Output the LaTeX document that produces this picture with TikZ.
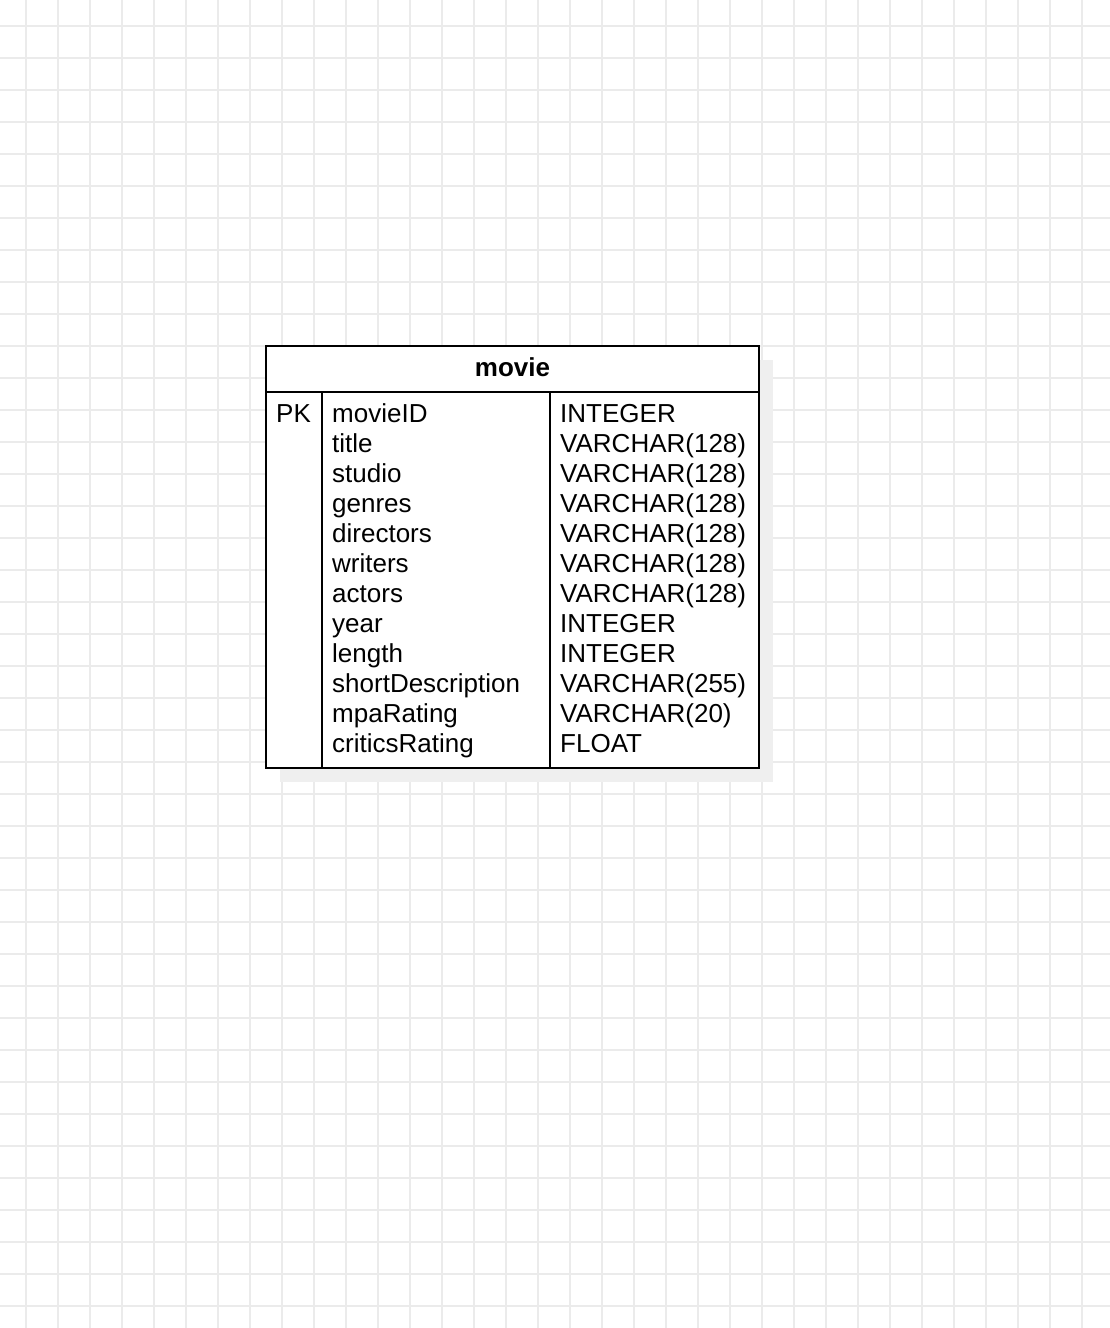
\documentclass[tikz,border=0pt]{standalone}
\usepackage{fontspec}
\setmainfont{Liberation Sans}
\definecolor{gridgray}{HTML}{EBEBEB}
\definecolor{shadowgray}{HTML}{EFEFEF}

\begin{document}
\begin{tikzpicture}[x=1pt,y=-1pt,
    gridline/.style={draw=gridgray, line width=1.3pt},
    tblline/.style={draw=black, line width=2pt},
    cell/.style={anchor=base west, inner sep=0pt, font=\fontsize{26}{30}\selectfont}]
    \useasboundingbox (0,0) rectangle (1110,1328);
    % background grid
    \foreach \x in {26,58,...,1110}
        \draw[gridline] (\x,0) -- (\x,1328);
    \foreach \y in {26,58,...,1328}
        \draw[gridline] (0,\y) -- (1110,\y);
    % table with shadow
    \fill[shadowgray] (280,360) rectangle (773,782);
    \filldraw[tblline, fill=white] (266,346) rectangle (759,768);
    \draw[tblline] (266,392) -- (759,392);
    \draw[tblline] (322,392) -- (322,768);
    \draw[tblline] (550,392) -- (550,768);
    \node[cell, anchor=base, font=\fontsize{26}{30}\selectfont\bfseries] (title) at (512.5,376.5) {movie};
    \node[cell] (pk) at (276,422) {PK};
    \foreach \fld/\typ [count=\i] in {movieID/INTEGER, title/VARCHAR(128), studio/VARCHAR(128),
        genres/VARCHAR(128), directors/VARCHAR(128), writers/VARCHAR(128), actors/VARCHAR(128),
        year/INTEGER, length/INTEGER, shortDescription/VARCHAR(255), mpaRating/VARCHAR(20),
        criticsRating/FLOAT}
    {
        \node[cell] (fld\i) at (332,392+30*\i) {\fld};
        \node[cell] (typ\i) at (560,392+30*\i) {\typ};
    }
\end{tikzpicture}
\end{document}
